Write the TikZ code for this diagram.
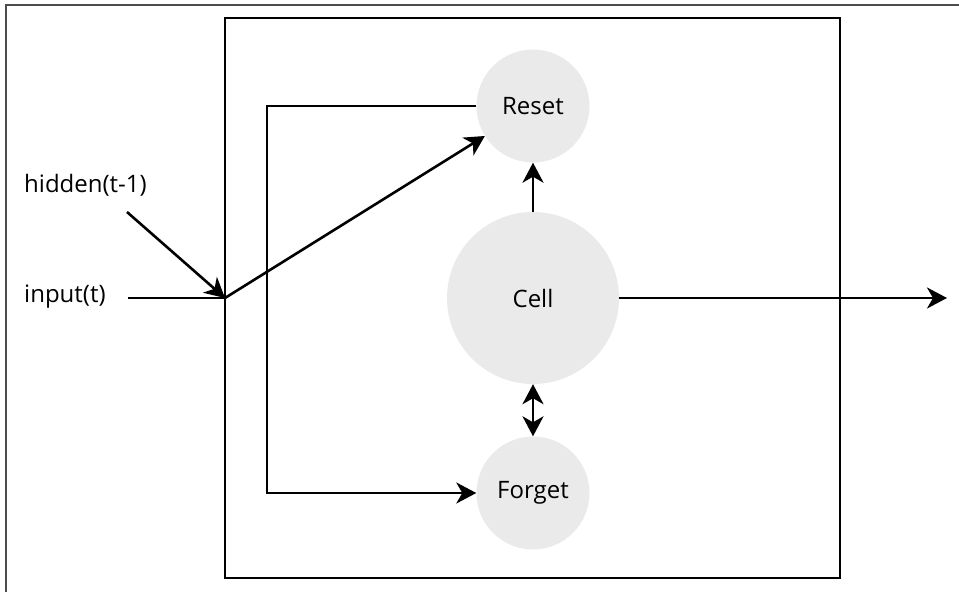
\documentclass[tikz,border=0pt]{standalone}
\usepackage{fontspec}
\setmainfont{Open Sans}
\usetikzlibrary{arrows.meta}
\definecolor{circfill}{HTML}{EAEAEA}
\begin{document}
\begin{tikzpicture}[x=1pt,y=-1pt,
  gate/.style={circle,fill=circfill,draw=none,inner sep=0pt,font=\fontsize{24}{26}\selectfont},
  lbl/.style={inner sep=0pt,font=\fontsize{24}{26}\selectfont},
  conn/.style={line width=2.6pt},
  tip/.tip={Stealth[length=20pt,width=21pt,inset=6pt]},
  arr/.style={conn,-tip},
  darr/.style={conn,tip-tip}]
\useasboundingbox (0,0) rectangle (959,592);
\draw[black!70,line width=1.4pt] (6,592) -- (6,5) -- (959,5);
\draw[line width=2.6pt] (225,18) rectangle (840,578);
\node[gate,minimum size=113pt] (Reset) at (533,106) {Reset};
\node[gate,minimum size=172pt] (Cell) at (533,298) {Cell};
\node[gate,minimum size=113pt] (Forget) at (533,493) {Forget};
\node[lbl,anchor=west] (hidden) at (24,185) {hidden(t-1)};
\node[lbl,anchor=west] (input) at (24,297) {input(t)};
\coordinate (hs) at (127,212);
\coordinate (is) at (128,298);
\coordinate (j) at (225,298);
\coordinate (fb) at (267,106);
\coordinate (out) at (947,298);
\draw[arr] (hs) -- (j);
\draw[conn] (is) -- (j);
\draw[arr] (j) -- (Reset);
\draw[arr] (Reset.west) -- (fb) |- (Forget.west);
\draw[arr] (Cell.north) -- (Reset.south);
\draw[darr] (Cell.south) -- (Forget.north);
\draw[arr] (Cell.east) -- (out);
\end{tikzpicture}
\end{document}
